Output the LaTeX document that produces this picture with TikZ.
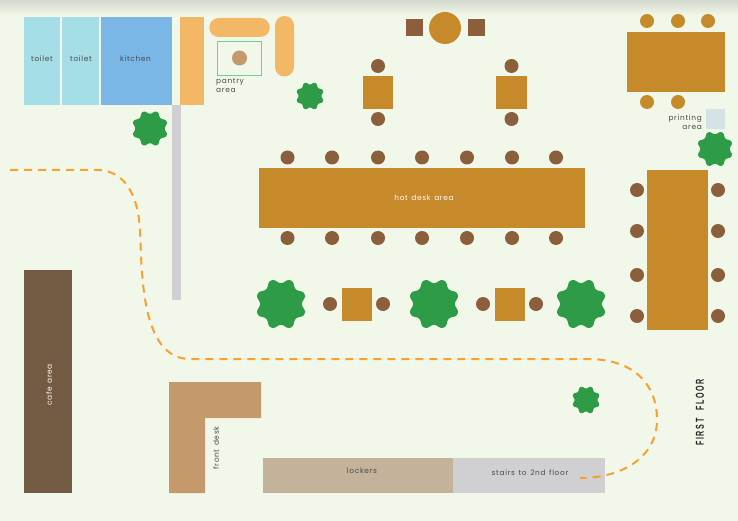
\documentclass[tikz,border=0pt]{standalone}
\usepackage{fontspec}
\usepackage{xcolor}
\setmainfont[LetterSpace=9,WordSpace=1.35]{Poppins}
\newfontfamily\floorfont[FakeStretch=0.62,LetterSpace=14,WordSpace=2.2,BoldFont={Liberation Sans Bold}]{Liberation Sans}
\definecolor{floorbg}{HTML}{F1F8E9}
\definecolor{topband}{HTML}{D3D9CE}
\definecolor{paleblue}{HTML}{A5DEE6}
\definecolor{kitchenblue}{HTML}{7AB6E6}
\definecolor{sandorange}{HTML}{F3B865}
\definecolor{pantrygreen}{HTML}{6FCF98}
\definecolor{tan}{HTML}{C49A6C}
\definecolor{treegreen}{HTML}{2E9C47}
\definecolor{tablegold}{HTML}{C68A2A}
\definecolor{chairbrown}{HTML}{8B5E3C}
\definecolor{cafebrown}{HTML}{735A43}
\definecolor{lockertan}{HTML}{C4B39A}
\definecolor{stairgrey}{HTML}{D0D0D3}
\definecolor{wallgrey}{HTML}{D0D0D3}
\definecolor{printblue}{HTML}{D5E3E5}
\definecolor{walkorange}{HTML}{F8A030}
\definecolor{labelgrey}{HTML}{4A4A4A}
\usetikzlibrary{arrows.meta}

\begin{document}
\begin{tikzpicture}[x=1pt,y=-1pt,declare function={lobe(\t)=0.91+0.09*(0.6*cos(8*(\t-22.5))+0.4*sin(90*cos(8*(\t-22.5))));}]
\tikzset{tree/.pic={\fill[treegreen] plot[smooth cycle,domain=0:356.25,samples=96] ({lobe(\x)*cos(\x)},{lobe(\x)*sin(\x)});}}
\tikzstyle{room} =[rectangle,inner sep=0pt,outer sep=0pt]
\tikzstyle{chair} =[circle,fill=chairbrown,inner sep=0pt,minimum size=14pt]
\tikzstyle{goldchair} =[circle,fill=tablegold,inner sep=0pt,minimum size=14pt]
\tikzstyle{roomtext} =[inner sep=0pt,text=labelgrey,font=\fontsize{7.4}{9}\selectfont,align=left]
\tikzstyle{whitetext} =[inner sep=0pt,text=white,font=\fontsize{7.4}{9}\selectfont]

\useasboundingbox (0,0) rectangle (738,521);
\fill[floorbg] (0,0) rectangle (738,521);
\shade[top color=topband,bottom color=floorbg] (0,0) rectangle (738,15);

\node[room,fill=paleblue,minimum width=36.5pt,minimum height=87.5pt](toiletone) at (41.75,61.25){};
\node[room,fill=paleblue,minimum width=36.5pt,minimum height=87.5pt](toilettwo) at (80.25,61.25){};
\node[room,fill=kitchenblue,minimum width=71.5pt,minimum height=87.5pt](kitchen) at (136.25,61.25){};
\node[room,fill=sandorange,minimum width=24pt,minimum height=87.5pt](counter) at (192,61.25){};
\node[room,fill=wallgrey,minimum width=9pt,minimum height=195pt](wall) at (176.5,202.5){};
\node[roomtext](toiletonelabel) at (42,59){toilet};
\node[roomtext](toilettwolabel) at (81,59){toilet};
\node[roomtext](kitchenlabel) at (135.5,59){kitchen};

\node[room,fill=sandorange,rounded corners=9.5pt,minimum width=60.5pt,minimum height=19pt](pillone) at (239.5,27.5){};
\node[room,fill=sandorange,rounded corners=9.5pt,minimum width=19pt,minimum height=60.5pt](pilltwo) at (284.5,46.25){};
\node[room,draw=pantrygreen,line width=1.2pt,minimum width=44pt,minimum height=34pt](pantry) at (239.5,58.5){};
\node[circle,fill=tan,inner sep=0pt,minimum size=15pt](pantrystool) at (239.5,58){};
\node[roomtext,anchor=north west](pantrylabel) at (216,78.5){pantry\\area};

\node[room,fill=chairbrown,minimum width=17pt,minimum height=17pt](stoolone) at (414.5,27.5){};
\node[room,fill=chairbrown,minimum width=17pt,minimum height=17pt](stooltwo) at (476,27.5){};
\node[circle,fill=tablegold,inner sep=0pt,minimum size=32pt](roundtable) at (445,28){};

\node[chair](topa) at (378,66){};
\node[room,fill=tablegold,minimum width=30.5pt,minimum height=33pt](tablea) at (378,92.5){};
\node[chair](bota) at (378,119){};
\node[chair](topb) at (511.5,66){};
\node[room,fill=tablegold,minimum width=30.5pt,minimum height=33pt](tableb) at (511.5,92.5){};
\node[chair](botb) at (511.5,119){};

\node[room,fill=tablegold,minimum width=326pt,minimum height=60pt](hotdesk) at (422,198){};
\node[whitetext](hotdesklabel) at (424,198){hot desk area};
\node[chair](hotnorth1) at (287.5,157.5){};
\node[chair](hotnorth2) at (332,157.5){};
\node[chair](hotnorth3) at (378,157.5){};
\node[chair](hotnorth4) at (422,157.5){};
\node[chair](hotnorth5) at (467,157.5){};
\node[chair](hotnorth6) at (512,157.5){};
\node[chair](hotnorth7) at (556,157.5){};
\node[chair](hotsouth1) at (287.5,238){};
\node[chair](hotsouth2) at (332,238){};
\node[chair](hotsouth3) at (378,238){};
\node[chair](hotsouth4) at (422,238){};
\node[chair](hotsouth5) at (467,238){};
\node[chair](hotsouth6) at (512,238){};
\node[chair](hotsouth7) at (556,238){};

\node[room,fill=tablegold,minimum width=30.5pt,minimum height=33pt](tablec) at (357,304){};
\node[chair](leftc) at (330,304){};
\node[chair](rightc) at (383,304){};
\node[room,fill=tablegold,minimum width=30.5pt,minimum height=33pt](tabled) at (510,304){};
\node[chair](leftd) at (483,304){};
\node[chair](rightd) at (536,304){};

\node[room,fill=tablegold,minimum width=61pt,minimum height=160pt](longtable) at (677.5,250){};
\node[chair](longwest1) at (637,190){};
\node[chair](longwest2) at (637,231){};
\node[chair](longwest3) at (637,275){};
\node[chair](longwest4) at (637,316){};
\node[chair](longeast1) at (718,190){};
\node[chair](longeast2) at (718,231){};
\node[chair](longeast3) at (718,275){};
\node[chair](longeast4) at (718,316){};

\node[room,fill=tablegold,minimum width=98pt,minimum height=60pt](meettable) at (676,62){};
\node[goldchair](meettop1) at (647,21){};
\node[goldchair](meettop2) at (678,21){};
\node[goldchair](meettop3) at (708,21){};
\node[goldchair](meetbot1) at (647,102){};
\node[goldchair](meetbot2) at (678,102){};
\node[room,fill=printblue,minimum width=19pt,minimum height=20.5pt](printer) at (715.5,119.25){};
\node[roomtext,align=right,anchor=north east](printlabel) at (702,114.5){printing\\area};

\pic[scale=18] (treea) at (150,128.5) {tree};
\pic[scale=14] (treeb) at (310,96) {tree};
\pic[scale=25.5] (treec) at (281,304) {tree};
\pic[scale=25.5] (treed) at (434,304) {tree};
\pic[scale=25.5] (treee) at (581,304) {tree};
\pic[scale=14] (treef) at (586,400) {tree};
\pic[scale=18] (treeg) at (715,149) {tree};

\node[room,fill=cafebrown,minimum width=48pt,minimum height=223pt](cafe) at (48,381.5){};
\node[whitetext,rotate=90](cafelabel) at (49,385){cafe area};
\fill[tan] (169,382) -- (261,382) -- (261,418) -- (205,418) -- (205,493) -- (169,493) -- cycle;
\node[roomtext,rotate=90](desklabel) at (216,448){front desk};
\node[room,fill=lockertan,minimum width=190pt,minimum height=35pt](lockers) at (358,475.5){};
\node[room,fill=stairgrey,minimum width=152pt,minimum height=35pt](stairs) at (529,475.5){};
\node[roomtext](lockerlabel) at (362,471){lockers};
\node[roomtext](stairlabel) at (530,473){stairs to 2nd floor};
\node[inner sep=0pt,rotate=90,text=black!85,font=\floorfont\bfseries\fontsize{11.5}{13}\selectfont](floorlabel) at (700,412.5){FIRST FLOOR};

\coordinate (walkstart) at (10,170);
\coordinate (walkend) at (580,478);
\draw [walkorange,line width=2pt,dash pattern=on 8pt off 6pt] (walkstart) -- (100,170) .. controls (125,172) and (138,195) .. (140,230) .. controls (142,270) and (140,359) .. (190,359) -- (590,359) .. controls (635,360) and (657,385) .. (657,420) .. controls (657,455) and (625,478) .. (walkend);
\end{tikzpicture}
\end{document}
